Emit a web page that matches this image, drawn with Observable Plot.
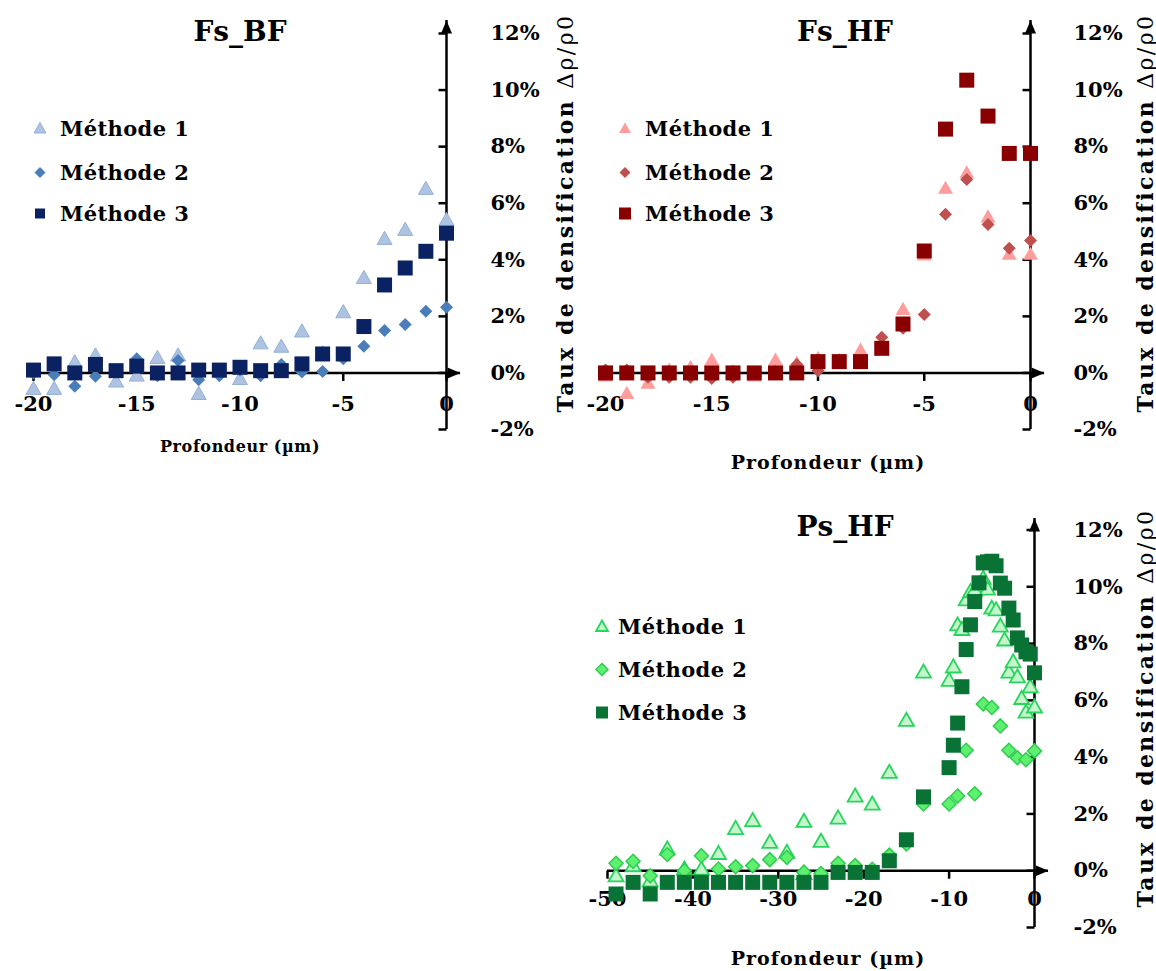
<!DOCTYPE html>
<html><head><meta charset="utf-8">
<script src="https://cdn.jsdelivr.net/npm/d3@7"></script>
<script src="https://cdn.jsdelivr.net/npm/@observablehq/plot@0.6"></script>
<style>
body{margin:0;background:#fff;}
#root{position:relative;width:1156px;height:971px;overflow:hidden;font-family:"DejaVu Serif",serif;color:#000;}
.panel{position:absolute;}
.abs{position:absolute;white-space:nowrap;font-weight:bold;line-height:1;}
.center{transform:translate(-50%,-50%);}
.leg{position:absolute;display:flex;align-items:center;white-space:nowrap;font-weight:bold;font-size:21px;letter-spacing:0.4px;line-height:1;transform:translateY(-50%);}
.ylab{position:absolute;white-space:nowrap;font-weight:bold;font-size:22px;letter-spacing:2.4px;line-height:1;transform:translate(-50%,-50%) rotate(-90deg);}
</style></head><body><div id="root"></div>
<script>
// ---------- data ----------
const methods = ["Méthode 1", "Méthode 2", "Méthode 3"];
const yTicks = [-2, 0, 2, 4, 6, 8, 10, 12];
const xTicksFs = [-20, -15, -10, -5, 0];
const xTicksPs = [-50, -40, -30, -20, -10, 0];

const depthFs = [-20,-19,-18,-17,-16,-15,-14,-13,-12,-11,-10,-9,-8,-7,-6,-5,-4,-3,-2,-1,0];
const fsbfM1 = [-0.56,-0.56,0.38,0.62,-0.30,-0.09,0.53,0.62,-0.74,0.05,-0.21,1.05,0.93,1.47,0.70,2.15,3.36,4.74,5.06,6.51,5.41];
const fsbfM2 = [0.00,-0.06,-0.47,-0.12,0.05,0.50,-0.10,0.44,-0.24,-0.10,0.10,-0.10,0.30,0.03,0.05,0.50,0.94,1.50,1.71,2.18,2.32];
const fsbfM3 = [0.10,0.32,0.00,0.30,0.08,0.24,0.00,0.00,0.10,0.10,0.20,0.08,0.08,0.32,0.67,0.67,1.64,3.11,3.71,4.30,4.94];

const fshfM1 = [-0.10,-0.72,-0.36,0.10,0.20,0.46,0.05,-0.10,0.46,0.35,0.52,0.45,0.81,0.95,2.25,4.17,6.53,7.08,5.52,4.20,4.20];
const fshfM2 = [0.10,0.10,-0.15,-0.15,-0.15,-0.20,-0.15,0.00,0.05,0.30,0.08,0.40,0.40,1.26,1.58,2.07,5.61,6.84,5.25,4.41,4.68];
const fshfM3 = [0,0,0,0,0,0,0,0,0,0,0.40,0.40,0.40,0.87,1.73,4.31,8.62,10.35,9.08,7.76,7.76];

const psM1Depth = [-49,-47,-45,-43,-41,-39,-37,-35,-33,-31,-29,-27,-27,-25,-23,-21,-19,-17,-15,-13,-10,-9.5,-9,-8.5,-8,-7.5,-7,-6.5,-6,-5.5,-5,-4.5,-4,-3.5,-3,-2.5,-2,-1.5,-1,-0.5,0];
const psM1 = [-0.18,0.18,-0.35,0.77,0.06,0.06,0.61,1.49,1.77,1.00,0.65,1.74,-0.10,1.04,1.86,2.63,2.35,3.47,5.30,7.00,6.71,7.18,8.66,8.50,9.54,9.83,9.89,10.10,10.30,9.92,9.25,9.19,8.62,8.13,7.00,7.36,6.83,6.07,5.59,6.48,5.77];
const psM2Depth = [-49,-47,-45,-43,-41,-39,-37,-35,-33,-31,-29,-27,-25,-23,-21,-19,-17,-15,-13,-10,-9,-8,-7,-6,-5,-4,-3,-2,-1,0];
const psM2 = [0.26,0.33,-0.18,0.57,0.00,0.53,0.06,0.14,0.18,0.39,0.47,-0.05,-0.10,0.26,0.18,0.05,0.55,0.94,2.35,2.35,2.63,4.24,2.71,5.87,5.75,5.10,4.24,3.98,3.91,4.22];
const psM3Depth = [-49,-47,-45,-43,-41,-39,-37,-35,-33,-31,-29,-27,-25,-23,-21,-19,-17,-15,-13,-10,-9.5,-9,-8.5,-8,-7.5,-7,-6.5,-6,-5.5,-5,-4.5,-4,-3.5,-3,-2.5,-2,-1.5,-1,-0.5,0];
const psM3 = [-0.82,-0.41,-0.82,-0.41,-0.41,-0.41,-0.41,-0.41,-0.41,-0.41,-0.41,-0.41,-0.41,-0.06,-0.06,-0.06,0.35,1.09,2.60,3.63,4.42,5.20,6.48,7.79,8.66,9.48,10.14,10.84,10.88,10.90,10.74,10.13,9.95,9.25,8.83,8.20,7.95,7.71,7.63,6.97];

// ---------- symbols ----------
const rOf = size => Math.sqrt(size / Math.PI);
const symTri = {draw(c, s){ const r = rOf(s); c.moveTo(0,-r); c.lineTo(r, r*0.75); c.lineTo(-r, r*0.75); c.closePath(); }};
const symDia = {draw(c, s){ const r = rOf(s); c.moveTo(0,-r); c.lineTo(r,0); c.lineTo(0,r); c.lineTo(-r,0); c.closePath(); }};
const symSq  = {draw(c, s){ const r = rOf(s); c.rect(-r,-r,2*r,2*r); }};
const arrowUp = {draw(c){ c.moveTo(0,0); c.lineTo(5.5,13); c.lineTo(-5.5,13); c.closePath(); }};
const arrowRight = {draw(c){ c.moveTo(0,0); c.lineTo(-13,5.5); c.lineTo(-13,-5.5); c.closePath(); }};
const tickLeft = {draw(c){ c.moveTo(-8,0); c.lineTo(0,0); }};
const tickDown = {draw(c){ c.moveTo(0,0); c.lineTo(0,8); }};

const styles = {
  bf: [
    {symbol: symTri, fill: "#adc3e1", stroke: "#94b0d7", strokeWidth: 1, r: 7.5, lr: 6},
    {symbol: symDia, fill: "#4a7ebb", stroke: "none", strokeWidth: 0, r: 6.5, lr: 5.5},
    {symbol: symSq,  fill: "#0b2262", stroke: "none", strokeWidth: 0, r: 7.5, lr: 5}
  ],
  hf: [
    {symbol: symTri, fill: "#ff9c9c", stroke: "none", strokeWidth: 0, r: 7.5, lr: 6},
    {symbol: symDia, fill: "#c0504d", stroke: "none", strokeWidth: 0, r: 6.5, lr: 5.5},
    {symbol: symSq,  fill: "#880000", stroke: "none", strokeWidth: 0, r: 7.5, lr: 6}
  ],
  ps: [
    {symbol: symTri, fill: "#c4f5cd", stroke: "#26d65a", strokeWidth: 1.8, r: 7.5, lr: 6},
    {symbol: symDia, fill: "#5ef06f", stroke: "#30cc4f", strokeWidth: 1.5, r: 7, lr: 6},
    {symbol: symSq,  fill: "#087334", stroke: "none", strokeWidth: 0, r: 7.5, lr: 6}
  ]
};

function makePlot({width, height, marginLeft, marginRight, marginTop, marginBottom, insetTop, xDomain, xTicks, series, st, tickPad, xLabDy}) {
  const marks = [];
  series.forEach((s, k) => {
    const rows = s.depth.map((x, i) => ({x, y: s.values[i]}));
    const o = st[k];
    marks.push(Plot.dot(rows, {x: "x", y: "y", symbol: o.symbol, r: o.r, fill: o.fill, stroke: o.stroke, strokeWidth: o.strokeWidth, fillOpacity: 1}));
  });
  return Plot.plot({
    width, height, marginLeft, marginRight, marginTop, marginBottom,
    style: {fontFamily: "DejaVu Serif", fontWeight: "bold", fontSize: "21px", color: "#000", background: "transparent", overflow: "visible"},
    x: {domain: xDomain, insetRight: 14, axis: null},
    y: {domain: [-2, 12], insetTop, axis: null},
    marks: [
      Plot.ruleX([0], {stroke: "#000", strokeWidth: 2.5}),
      Plot.ruleY([0], {stroke: "#000", strokeWidth: 2.5}),
      Plot.dot([0], {x: d => d, frameAnchor: "top", symbol: arrowUp, fill: "#000", stroke: "none"}),
      Plot.dot([0], {y: d => d, frameAnchor: "right", symbol: arrowRight, fill: "#000", stroke: "none"}),
      Plot.dot(yTicks, {x: () => 0, y: d => d, symbol: tickLeft, stroke: "#000", strokeWidth: 2.5, fill: "none"}),
      Plot.dot(xTicks, {x: d => d, y: () => 0, symbol: tickDown, stroke: "#000", strokeWidth: 2.5, fill: "none"}),
      Plot.axisY(yTicks, {anchor: "right", tickSize: 0, tickPadding: tickPad, tickFormat: d => d + "%", label: null, fontSize: 21, fontWeight: "bold", style: "letter-spacing:1.2px"}),
      Plot.text(xTicks, {x: d => d, y: () => 0, dy: xLabDy, text: d => String(d), fontSize: 21, fontWeight: "bold", fill: "#000", style: "letter-spacing:1.5px"}),
      ...marks
    ]
  });
}

const root = document.getElementById("root");
function place(el, left, top) { const d = document.createElement("div"); d.className = "panel"; d.style.left = left + "px"; d.style.top = top + "px"; d.appendChild(el); root.appendChild(d); }
function text(html, x, y, size, extra = "") { const d = document.createElement("div"); d.className = "abs center"; d.style.left = x + "px"; d.style.top = y + "px"; d.style.fontSize = size + "px"; d.style.cssText += extra; d.innerHTML = html; root.appendChild(d); }
function ylab(x, y) { const d = document.createElement("div"); d.className = "ylab"; d.style.left = x + "px"; d.style.top = y + "px"; d.innerHTML = 'Taux de densification <span style="font-weight:normal">Δρ/ρ0</span>'; root.appendChild(d); }
function legend(st, symX, textX, ys) {
  methods.forEach((m, k) => {
    const o = st[k];
    const d = document.createElement("div"); d.className = "leg";
    d.style.left = (symX - 8) + "px"; d.style.top = ys[k] + "px";
    const path = d3.symbol(o.symbol, o.lr * o.lr * Math.PI)();
    d.innerHTML = `<svg width="16" height="16" viewBox="-8 -8 16 16" style="overflow:visible"><path d="${path}" fill="${o.fill}" stroke="${o.stroke}" stroke-width="${o.strokeWidth}"/></svg><span style="margin-left:${textX - symX - 8}px">${m}</span>`;
    root.appendChild(d);
  });
}

// Panel 1: Fs_BF
place(makePlot({width: 580, height: 460, marginLeft: 33, marginRight: 120, marginTop: 20, marginBottom: 31, insetTop: 13,
  xDomain: [-20, 0], xTicks: xTicksFs, st: styles.bf, tickPad: 30, xLabDy: 31,
  series: [{depth: depthFs, values: fsbfM1}, {depth: depthFs, values: fsbfM2}, {depth: depthFs, values: fsbfM3}]}), 0, 0);
text("Fs_BF", 240, 32, 28);
legend(styles.bf, 40, 60, [128, 172, 213]);
text("Profondeur (µm)", 240, 447, 16, "letter-spacing:0.6px;");
ylab(565, 213);

// Panel 2: Fs_HF
place(makePlot({width: 576, height: 470, marginLeft: 25, marginRight: 112, marginTop: 20, marginBottom: 41, insetTop: 13,
  xDomain: [-20, 0], xTicks: xTicksFs, st: styles.hf, tickPad: 29, xLabDy: 31,
  series: [{depth: depthFs, values: fshfM1}, {depth: depthFs, values: fshfM2}, {depth: depthFs, values: fshfM3}]}), 580, 0);
text("Fs_HF", 845, 32, 28);
legend(styles.hf, 625, 645, [128, 172, 213]);
text("Profondeur (µm)", 828, 462, 19, "letter-spacing:1px;");
ylab(1145, 213);

// Panel 3: Ps_HF
place(makePlot({width: 576, height: 481, marginLeft: 27, marginRight: 108, marginTop: 28, marginBottom: 44, insetTop: 11.5,
  xDomain: [-50, 0], xTicks: xTicksPs, st: styles.ps, tickPad: 25, xLabDy: 29,
  series: [{depth: psM1Depth, values: psM1}, {depth: psM2Depth, values: psM2}, {depth: psM3Depth, values: psM3}]}), 580, 490);
text("Ps_HF", 845, 527, 28);
legend(styles.ps, 602, 618, [626, 669, 712]);
text("Profondeur (µm)", 828, 958, 19, "letter-spacing:1px;");
ylab(1145, 708);
</script></body></html>
